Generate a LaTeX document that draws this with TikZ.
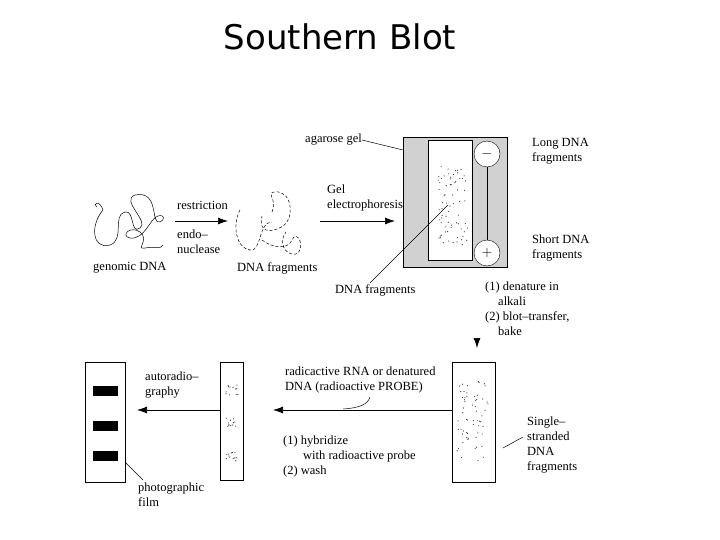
\documentclass[tikz,border=0pt]{standalone}
\usepackage{fontspec}
\setmainfont{Liberation Serif}
\newfontfamily\titlefont{DejaVu Sans}
\usetikzlibrary{arrows.meta}
\begin{document}
\begin{tikzpicture}[x=1pt,y=-1pt,
  lbl/.style={font=\fontsize{12.5}{15}\selectfont,anchor=west,inner sep=0pt,align=left},
  arr/.style={-{Latex[length=10pt,width=7pt]},line width=0.7pt},
  thin line/.style={line width=0.5pt},
  frag/.style={thin line,dash pattern=on 3pt off 2pt},
  dot/.style={fill=black!80}]
\useasboundingbox (0,0) rectangle (720,540);
\node[font=\titlefont\fontsize{34}{38}\selectfont] (title) at (340,37) {Southern Blot};
% genomic DNA
\draw[thin line] (97,207) .. controls (92,203) and (100,200) .. (103,210) .. controls (90,225) and (92,250) .. (110,245)
 .. controls (125,240) and (112,215) .. (125,212) .. controls (135,210) and (130,235) .. (140,228)
 .. controls (150,222) and (120,200) .. (135,195) .. controls (160,190) and (150,225) .. (160,222)
 .. controls (165,220) and (165,214) .. (158,216) .. controls (150,218) and (145,240) .. (130,238)
 .. controls (120,236) and (130,225) .. (140,232) .. controls (150,240) and (135,250) .. (145,248)
 .. controls (155,246) and (160,250) .. (163,245);
\node[lbl] (gdna) at (93,268) {genomic DNA};
% fragments
\draw[frag] (240,210) .. controls (232,225) and (236,248) .. (250,250) .. controls (262,252) and (258,222) .. (272,222);
\draw[frag] (272,212) .. controls (278,200) and (265,192) .. (275,192) .. controls (292,190) and (295,218) .. (283,226) .. controls (270,234) and (258,232) .. (262,216);
\draw[frag] (262,240) .. controls (272,248) and (288,250) .. (292,240) .. controls (298,228) and (306,250) .. (296,254) .. controls (285,256) and (278,242) .. (286,232);
\node[lbl] (frag1) at (237,268) {DNA fragments};
% restriction arrow
\coordinate (r1) at (175,221); \coordinate (r2) at (228,221);
\draw[arr] (r1) -- (r2);
\node[lbl] (restr) at (177,205) {restriction};
\node[lbl] (endo) at (177,242) {endo–\\nuclease};
% gel
\coordinate (g1) at (320,221); \coordinate (g2) at (395,221);
\draw[arr] (g1) -- (g2);
\node[lbl] (gelel) at (327,198) {Gel\\electrophoresis};
\node[draw,fill=black!18,minimum width=104pt,minimum height=130pt,anchor=north west] (gelbox) at (403,137) {};
\node[draw,fill=white,minimum width=44pt,minimum height=120pt,anchor=north west] (gelin) at (428,140) {};
\node[draw,circle,fill=white,minimum size=26pt,inner sep=0pt,font=\Large\bfseries] (minus) at (487,154) {$-$};
\node[draw,circle,fill=white,minimum size=26pt,inner sep=0pt,font=\Large\bfseries] (plus) at (487,253) {$+$};
\draw (minus) -- (plus);
\node[lbl] (agar) at (305,140) {agarose gel};
\draw[thin line] (agar.east) -- (gelbox.north west |- 0,150);
\node[lbl] (long) at (532,151) {Long DNA\\fragments};
\node[lbl] (short) at (532,248) {Short DNA\\fragments};
\node[lbl] (frag2) at (335,290) {DNA fragments};
\coordinate (fp) at (448,205);
\draw[thin line] (370,283) -- (fp);
% dots in gel
\pgfmathsetseed{7}
\foreach \i in {1,...,70}{\pgfmathsetmacro\xx{438+rnd*30}\pgfmathsetmacro\yy{165+rnd*80}\fill[dot] (\xx,\yy) circle (0.6pt);}
% steps
\node[lbl] (step1) at (485,309) {(1) denature in\\\hspace{13pt}alkali\\(2) blot–transfer,\\\hspace{13pt}bake};
\coordinate (da1) at (477,338); \coordinate (da2) at (477,348);
\draw[arr] (da1) -- (da2);
% bottom boxes
\node[draw,thin line,minimum width=40pt,minimum height=120pt,anchor=north west] (film) at (85,362) {};
\foreach \y in {386,421,451}{\fill (93,\y) rectangle (118,\y+10);}
\node[draw,thin line,minimum width=23pt,minimum height=118pt,anchor=north west] (memb2) at (220,362) {};
\node[draw,thin line,minimum width=43pt,minimum height=120pt,anchor=north west] (memb) at (452,362) {};
\pgfmathsetseed{11}
\foreach \i in {1,...,60}{\pgfmathsetmacro\xx{457+rnd*32}\pgfmathsetmacro\yy{380+rnd*85}\fill[dot] (\xx,\yy) circle (0.6pt);}
\foreach \cy in {390,423,456}{\foreach \i in {1,...,12}{\pgfmathsetmacro\xx{226+rnd*12}\pgfmathsetmacro\yy{\cy-5+rnd*10}\fill[dot] (\xx,\yy) circle (0.6pt);}}
\draw[arr] (memb.west |- 0,410) -- (273,410);
\draw[arr] (memb2.west |- 0,410) -- (137,410);
\node[lbl] (auto) at (145,385) {autoradio–\\graphy};
\node[lbl] (probe) at (285,380) {radicactive RNA or denatured\\DNA (radioactive PROBE)};
\coordinate (pc) at (343,409);
\draw[thin line] (370,397) .. controls (368,404) and (360,408) .. (pc);
\node[lbl] (hyb) at (283,456) {(1) hybridize\\\hspace{20pt}with radioactive probe\\(2) wash};
\node[lbl] (single) at (527,445) {Single–\\stranded\\DNA\\fragments};
\coordinate (sp) at (503,448);
\draw[thin line] (523,437) -- (sp);
\node[lbl] (photo) at (138,495) {photographic\\film};
\coordinate (fb) at (125,462);
\draw[thin line] (fb) -- (143,480);
\end{tikzpicture}
\end{document}
